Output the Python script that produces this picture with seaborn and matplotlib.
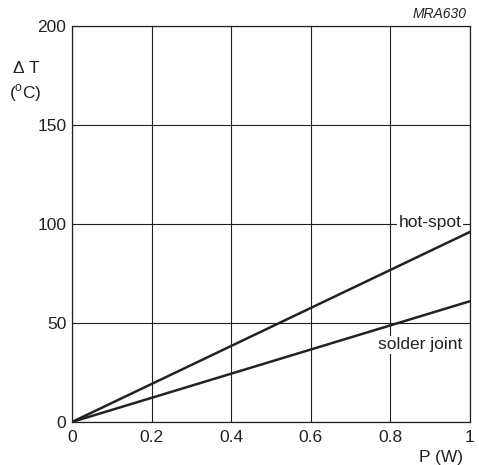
import matplotlib
matplotlib.use("Agg")
import matplotlib.pyplot as plt
import seaborn as sns
import pandas as pd

# data
power = [0.0, 1.0]
hot_spot = [0, 96]
solder_joint = [0, 61]
x_ticks = [0, 0.2, 0.4, 0.6, 0.8, 1]
x_labels = ["0", "0.2", "0.4", "0.6", "0.8", "1"]
y_ticks = [0, 50, 100, 150, 200]

df = pd.DataFrame({"P": power + power,
                   "dT": hot_spot + solder_joint,
                   "curve": ["hot-spot"] * 2 + ["solder joint"] * 2})

sns.set_style("white")
plt.rcParams["font.family"] = ["Liberation Sans", "DejaVu Sans"]
plt.rcParams["mathtext.fontset"] = "custom"
plt.rcParams["mathtext.rm"] = "Liberation Sans"

fs = 12.5
ink = "#222222"

fig = plt.figure(figsize=(4.79, 4.65), dpi=100)
ax = fig.add_axes([0.1503, 0.0925, 0.8309, 0.8516])

sns.lineplot(data=df, x="P", y="dT", units="curve", estimator=None,
             color=ink, linewidth=1.8, ax=ax, legend=False)

ax.set_xlim(0, 1)
ax.set_ylim(0, 200)
ax.set_xticks(x_ticks)
ax.set_xticklabels(x_labels)
ax.set_yticks(y_ticks)
ax.grid(True, color=ink, linewidth=0.8)
ax.set_axisbelow(True)
for s in ax.spines.values():
    s.set_color(ink)
    s.set_linewidth(0.9)
ax.tick_params(axis="both", labelsize=fs, colors=ink, length=0)
ax.tick_params(axis="x", pad=6)
ax.tick_params(axis="y", pad=4)
ax.set_xlabel("")
ax.set_ylabel("")

fig.text(0.055, 0.854, "$\\Delta$ T", ha="center", va="center", fontsize=fs, color=ink)
fig.text(0.053, 0.80, "($^{\\rm o}$C)", ha="center", va="center", fontsize=fs, color=ink)
fig.text(0.92, 0.017, "P (W)", ha="center", va="center", fontsize=fs, color=ink)
fig.text(0.975, 0.97, "MRA630", ha="right", va="center", fontsize=10,
         style="italic", color=ink)

ax.text(0.9, 101, "hot-spot", ha="center", va="center", fontsize=fs, color=ink,
        bbox=dict(facecolor="white", edgecolor="none", pad=1))
ax.text(0.875, 39, "solder joint", ha="center", va="center", fontsize=fs, color=ink,
        bbox=dict(facecolor="white", edgecolor="none", pad=1))

fig.savefig("out.png", dpi=100)
